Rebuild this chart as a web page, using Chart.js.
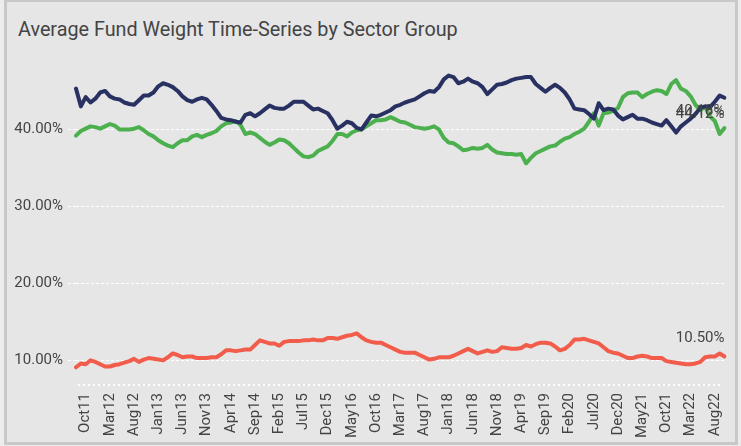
<!DOCTYPE html>
<html>
<head>
<meta charset="utf-8">
<script src="https://cdn.jsdelivr.net/npm/chart.js@4.4.1/dist/chart.umd.min.js"></script>
<style>
  html, body { margin: 0; padding: 0; background: #ececec; width: 741px; height: 446px; overflow: hidden; }
  #frame { position: absolute; left: 4px; top: -1px; width: 728px; height: 440px; border: 3px solid #c8c8c8; background: #e6e6e6; }
  #chart { position: absolute; left: 0; top: 0; }
  #title { position: absolute; left: 18px; top: 18px; font: 19.8px/24px Roboto, "Noto Sans", sans-serif; color: #444444; white-space: nowrap; }
</style>
</head>
<body>
<div id="frame"></div>
<div id="title">Average Fund Weight Time-Series by Sector Group</div>
<canvas id="chart" width="741" height="446"></canvas>
<script>
// monthly points, Aug11 .. Oct22
const monthNames = ['Jan','Feb','Mar','Apr','May','Jun','Jul','Aug','Sep','Oct','Nov','Dec'];
const labels = [];
for (let i = 0; i < 135; i++) {
  const m = (7 + i) % 12;
  const y = 11 + Math.floor((7 + i) / 12);
  labels.push(monthNames[m] + y);
}

const seriesNames = ['Group A', 'Group B', 'Group C'];

const navyValues = [
  45.3, 43.0, 44.2, 43.5, 44.0, 44.8, 45.0, 44.3, 44.0, 43.9,
  43.5, 43.3, 43.2, 43.8, 44.4, 44.4, 44.8, 45.6, 46.0, 45.8,
  45.5, 45.0, 44.3, 43.8, 43.6, 43.9, 44.1, 43.9, 43.2, 42.4,
  41.5, 41.3, 41.2, 41.0, 40.9, 41.9, 42.1, 41.7, 42.1, 42.6,
  43.1, 42.8, 42.7, 42.7, 43.1, 43.6, 43.6, 43.6, 43.1, 42.6,
  42.7, 42.4, 42.1, 41.2, 40.1, 40.5, 41.0, 40.8, 40.2, 40.0,
  40.9, 41.8, 41.7, 41.9, 42.2, 42.5, 43.0, 43.2, 43.5, 43.7,
  43.9, 44.3, 44.7, 45.0, 44.9, 45.5, 46.5, 47.0, 46.8, 46.0,
  46.2, 46.6, 46.2, 46.0, 45.5, 44.6, 45.2, 45.8, 45.9, 46.1,
  46.4, 46.6, 46.7, 46.8, 46.8, 45.9, 45.4, 44.9, 45.4, 45.8,
  45.4, 44.8, 43.9, 42.7, 42.6, 42.5, 42.0, 41.4, 43.4, 42.5,
  42.7, 42.6, 41.8, 41.3, 41.6, 41.9, 41.4, 41.4, 41.2, 40.9,
  40.7, 40.5, 41.2, 40.4, 39.6, 40.4, 40.9, 41.4, 42.0, 42.8,
  43.0, 42.9, 43.6, 44.4, 44.12
];

const greenValues = [
  39.2, 39.8, 40.1, 40.4, 40.3, 40.1, 40.4, 40.7, 40.5, 40.0,
  40.0, 40.0, 40.1, 40.3, 39.9, 39.4, 39.1, 38.6, 38.2, 37.9,
  37.7, 38.2, 38.6, 38.6, 39.1, 39.3, 39.0, 39.3, 39.5, 39.8,
  40.4, 40.8, 40.9, 41.1, 40.6, 39.4, 39.6, 39.4, 38.9, 38.4,
  38.0, 38.3, 38.7, 38.6, 38.2, 37.6, 37.0, 36.5, 36.4, 36.6,
  37.2, 37.5, 37.8, 38.5, 39.4, 39.4, 39.1, 39.6, 39.9, 40.0,
  40.4, 40.8, 41.2, 41.2, 41.3, 41.6, 41.3, 41.0, 40.9, 40.6,
  40.3, 40.2, 40.1, 40.2, 40.4, 40.0, 38.9, 38.3, 38.2, 37.8,
  37.3, 37.4, 37.6, 37.5, 37.6, 38.0, 37.4, 37.0, 36.9, 36.8,
  36.8, 36.7, 36.8, 35.6, 36.3, 36.9, 37.2, 37.5, 37.8, 37.9,
  38.4, 38.8, 39.0, 39.4, 39.7, 40.1, 41.0, 42.1, 40.5, 42.1,
  42.2, 42.4, 42.8, 44.2, 44.7, 44.8, 44.8, 44.2, 44.6, 44.9,
  45.1, 45.0, 44.6, 45.9, 46.4, 45.3, 45.0, 44.3, 43.2, 42.5,
  42.9, 41.7, 41.1, 39.4, 40.18
];

const redValues = [
  9.1, 9.6, 9.5, 10.0, 9.8, 9.5, 9.2, 9.2, 9.4, 9.5,
  9.7, 9.9, 10.2, 9.8, 10.1, 10.3, 10.2, 10.1, 10.0, 10.4,
  10.9, 10.7, 10.4, 10.5, 10.5, 10.3, 10.3, 10.3, 10.4, 10.4,
  10.8, 11.3, 11.3, 11.2, 11.3, 11.4, 11.4, 12.0, 12.6, 12.4,
  12.2, 12.2, 11.9, 12.4, 12.5, 12.5, 12.5, 12.6, 12.6, 12.7,
  12.6, 12.6, 12.9, 12.9, 12.8, 13.0, 13.2, 13.3, 13.5, 13.0,
  12.6, 12.4, 12.3, 12.3, 12.0, 11.7, 11.4, 11.1, 11.0, 11.0,
  11.0, 10.7, 10.4, 10.1, 10.2, 10.4, 10.4, 10.4, 10.6, 10.9,
  11.2, 11.5, 11.2, 10.9, 11.1, 11.3, 11.1, 11.2, 11.7, 11.6,
  11.5, 11.5, 11.6, 12.0, 11.8, 12.1, 12.3, 12.3, 12.2, 11.8,
  11.3, 11.5, 12.0, 12.7, 12.7, 12.8, 12.6, 12.4, 12.2, 11.7,
  11.2, 11.0, 10.9, 10.6, 10.3, 10.3, 10.5, 10.6, 10.5, 10.3,
  10.3, 10.3, 9.9, 9.8, 9.7, 9.6, 9.5, 9.5, 9.6, 9.8,
  10.4, 10.5, 10.5, 10.9, 10.50
];

const yTicks = [10, 20, 30, 40];

const FONT = 'Roboto, "Noto Sans", sans-serif';
const TEXT = '#444444';

// dotted base line under the plot
const baseLine = {
  id: 'baseLine',
  beforeDatasetsDraw(chart) {
    const ctx = chart.ctx;
    const a = chart.chartArea;
    ctx.save();
    ctx.strokeStyle = '#ffffff';
    ctx.lineWidth = 2;
    ctx.setLineDash([2, 3]);
    ctx.beginPath();
    ctx.moveTo(a.left + 2, a.bottom);
    ctx.lineTo(a.right - 4, a.bottom);
    ctx.stroke();
    ctx.restore();
  }
};

// value labels at the end of each line
const endLabels = {
  id: 'endLabels',
  afterDatasetsDraw(chart) {
    const ctx = chart.ctx;
    const offsets = [17, -17, -18];
    ctx.save();
    ctx.font = '15px ' + FONT;
    ctx.fillStyle = TEXT;
    ctx.textAlign = 'right';
    ctx.textBaseline = 'middle';
    chart.data.datasets.forEach((ds, i) => {
      const meta = chart.getDatasetMeta(i);
      const pt = meta.data[meta.data.length - 1];
      const v = ds.data[ds.data.length - 1];
      ctx.fillText(v.toFixed(2) + '%', chart.chartArea.right, pt.y + offsets[i]);
    });
    ctx.restore();
  }
};

new Chart(document.getElementById('chart'), {
  type: 'line',
  data: {
    labels: labels,
    datasets: [
      { label: seriesNames[0], data: navyValues, borderColor: '#283161' },
      { label: seriesNames[1], data: greenValues, borderColor: '#4cb04f' },
      { label: seriesNames[2], data: redValues, borderColor: '#f25c4b' }
    ]
  },
  options: {
    responsive: false,
    animation: false,
    events: [],
    layout: { padding: { left: 0, right: 12, top: 64, bottom: 0 } },
    elements: {
      line: { borderWidth: 4, tension: 0, borderJoinStyle: 'round', borderCapStyle: 'round' },
      point: { radius: 0 }
    },
    plugins: {
      legend: { display: false },
      tooltip: { enabled: false },
      title: { display: false }
    },
    scales: {
      x: {
        offset: false,
        afterFit(scale) { scale.height = 61; },
        grid: { display: false, drawTicks: false },
        border: { display: false },
        ticks: {
          autoSkip: false,
          maxRotation: 90,
          minRotation: 90,
          padding: 8,
          color: TEXT,
          font: { family: FONT, size: 15 },
          callback(val, i) { return (i - 2) % 5 === 0 ? labels[i] : null; }
        }
      },
      y: {
        min: 6.8,
        max: 48.5,
        afterFit(scale) { scale.width = 76; },
        afterBuildTicks(scale) { scale.ticks = yTicks.map(v => ({ value: v })); },
        grid: {
          color: '#ffffff',
          lineWidth: 1,
          tickColor: '#ffffff',
          tickLength: 8,
          tickBorderDash: [3, 2]
        },
        border: { display: false, dash: [3, 2] },
        ticks: {
          padding: 5,
          color: TEXT,
          font: { family: FONT, size: 15 },
          callback(v) { return v.toFixed(2) + '%'; }
        }
      }
    }
  },
  plugins: [baseLine, endLabels]
});
</script>
</body>
</html>
